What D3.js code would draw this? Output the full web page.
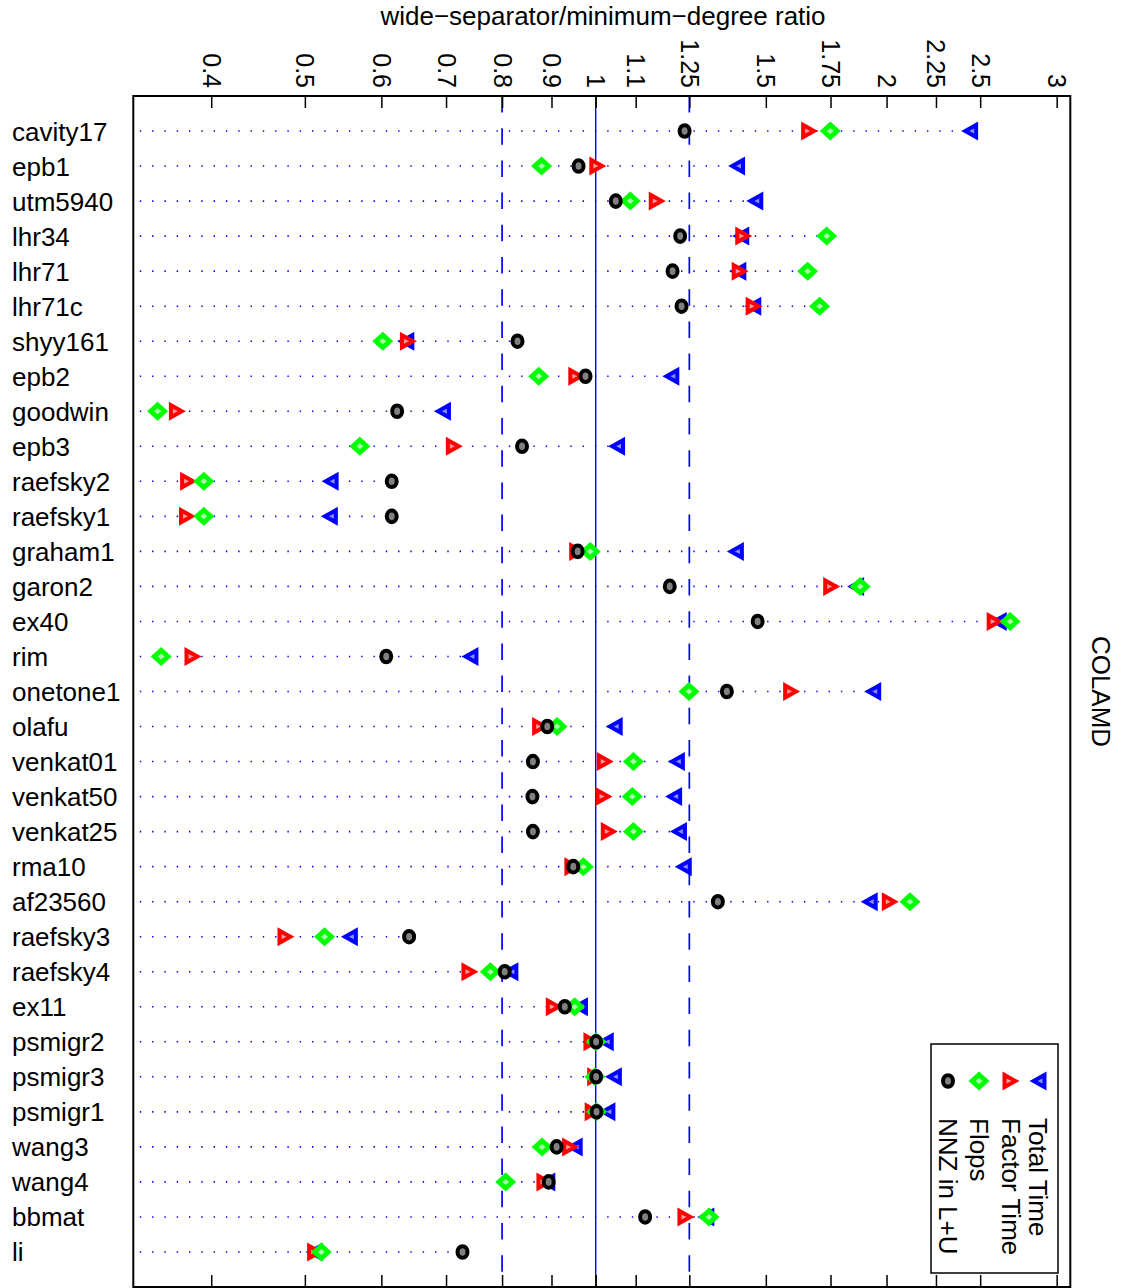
<!DOCTYPE html>
<html>
<head>
<meta charset="utf-8">
<script src="https://cdn.jsdelivr.net/npm/d3@7"></script>
<style>
  body { margin: 0; background: #fff; }
  svg { display: block; font-family: "Liberation Sans", Arial, sans-serif; }
</style>
</head>
<body>
<svg width="1124" height="1288"></svg>
<script>
// matrices, top to bottom
var matrices = ["cavity17", "epb1", "utm5940", "lhr34", "lhr71", "lhr71c", "shyy161", "epb2",
  "goodwin", "epb3", "raefsky2", "raefsky1", "graham1", "garon2", "ex40", "rim", "onetone1",
  "olafu", "venkat01", "venkat50", "venkat25", "rma10", "af23560", "raefsky3", "raefsky4",
  "ex11", "psmigr2", "psmigr3", "psmigr1", "wang3", "wang4", "bbmat", "li"];

// ratios
var totalTime = [2.438, 1.399, 1.461, 1.413, 1.403, 1.454, 0.636, 1.196, 0.694, 1.051, 0.531,
  0.530, 1.395, 1.858, 2.610, 0.741, 1.935, 1.045, 1.212, 1.204, 1.218, 1.232, 1.919, 0.556,
  0.815, 0.962, 1.023, 1.043, 1.027, 0.950, 0.890, 1.300, 0.511];
var factorTime = [1.665, 1.005, 1.158, 1.423, 1.411, 1.459, 0.640, 0.956, 0.369, 0.714, 0.379,
  0.378, 0.958, 1.755, 2.591, 0.383, 1.595, 0.877, 1.023, 1.020, 1.033, 0.947, 2.018, 0.478,
  0.741, 0.906, 0.991, 1.000, 0.994, 0.942, 0.886, 1.240, 0.513];
var flops = [1.749, 0.879, 1.086, 1.734, 1.657, 1.705, 0.602, 0.873, 0.352, 0.570, 0.393,
  0.393, 0.987, 1.878, 2.685, 0.355, 1.249, 0.912, 1.094, 1.091, 1.094, 0.971, 2.115, 0.524,
  0.778, 0.951, 1.001, 0.998, 1.002, 0.880, 0.807, 1.310, 0.520];
var nnzLU = [1.236, 0.960, 1.049, 1.223, 1.201, 1.227, 0.830, 0.976, 0.623, 0.839, 0.615,
  0.615, 0.958, 1.193, 1.471, 0.607, 1.367, 0.891, 0.861, 0.860, 0.861, 0.948, 1.338, 0.641,
  0.805, 0.929, 1.001, 1.001, 1.002, 0.911, 0.894, 1.125, 0.728];

var tickValues = [0.4, 0.5, 0.6, 0.7, 0.8, 0.9, 1, 1.1, 1.25, 1.5, 1.75, 2, 2.25, 2.5, 3];
var dashedRefs = [0.8, 1.25];
var solidRefs = [1];

var series = [
  { name: "Total Time", values: totalTime, shape: "left", color: "#0000ff", inner: "#8c8cff" },
  { name: "Factor Time", values: factorTime, shape: "right", color: "#ff0000", inner: "#ff9a9a" },
  { name: "Flops", values: flops, shape: "diamond", color: "#00ff00", inner: "#a6ffa6" },
  { name: "NNZ in L+U", values: nnzLU, shape: "circle", color: "#000000", inner: "#808080" }
];

var svg = d3.select("svg"),
    width = +svg.attr("width"),
    height = +svg.attr("height");

var plotLeft = 133.3, plotRight = 1070.3, plotTop = 96, plotBottom = 1287;

var x = d3.scaleLog()
    .domain([0.3322, 3.099])
    .range([plotLeft, plotRight]);

var y = d3.scaleLinear()
    .domain([0, matrices.length + 1])
    .range([plotTop, plotBottom]);

// title
svg.append("text")
    .attr("x", 603)
    .attr("y", 25)
    .attr("text-anchor", "middle")
    .style("font-size", "26px")
    .text("wide\u2212separator/minimum\u2212degree ratio");

// dotted row guides, left edge to the largest ratio
svg.append("g")
  .selectAll("line")
  .data(matrices)
  .enter()
  .append("line")
    .attr("x1", plotLeft + 6.5)
    .attr("x2", (d, i) => x(d3.max(series, s => s.values[i])))
    .attr("y1", (d, i) => y(i + 1))
    .attr("y2", (d, i) => y(i + 1))
    .style("stroke", "#0000ff")
    .style("stroke-width", 1.6)
    .style("stroke-dasharray", "1.4,10.9");

// reference lines
svg.append("g")
  .selectAll("line")
  .data(dashedRefs)
  .enter()
  .append("line")
    .attr("x1", d => x(d))
    .attr("x2", d => x(d))
    .attr("y1", plotTop)
    .attr("y2", plotBottom)
    .style("stroke", "#0000ff")
    .style("stroke-width", 1.7)
    .style("stroke-dasharray", "16.5,15.7");

svg.append("g")
  .selectAll("line")
  .data(solidRefs)
  .enter()
  .append("line")
    .attr("x1", d => x(d))
    .attr("x2", d => x(d))
    .attr("y1", plotTop)
    .attr("y2", plotBottom)
    .style("stroke", "#0000ff")
    .style("stroke-width", 1.4);

// marker shapes
function drawMarker(g, shape, color, inner) {
  if (shape == "circle") {
    g.append("ellipse")
        .attr("rx", 5).attr("ry", 5.8)
        .style("fill", inner)
        .style("stroke", color)
        .style("stroke-width", 4);
    return;
  }
  var outer, small;
  if (shape == "right") {
    outer = "M-8.5,-9.5L8.5,0L-8.5,9.5Z";
    small = "M-4.5,-2.5L0.5,0L-4.5,2.5Z";
  } else if (shape == "left") {
    outer = "M8.5,-9.5L-8.5,0L8.5,9.5Z";
    small = "M4.5,-2.5L-0.5,0L4.5,2.5Z";
  } else {
    outer = "M-10.5,0L0,-9.5L10.5,0L0,9.5Z";
    small = "M-3.5,0L0,-3L3.5,0L0,3Z";
  }
  g.append("path").attr("d", outer).style("fill", color);
  g.append("path").attr("d", small).style("fill", inner);
}

series.forEach(function(s) {
  svg.append("g")
    .selectAll("g")
    .data(s.values)
    .enter()
    .append("g")
      .attr("transform", (d, i) => "translate(" + x(d) + "," + y(i + 1) + ")")
      .each(function() { drawMarker(d3.select(this), s.shape, s.color, s.inner); });
});

// axes: ticks point inward, top and bottom
var topAxis = svg.append("g")
    .attr("transform", "translate(0," + plotTop + ")")
    .call(d3.axisTop(x).tickValues(tickValues).tickSize(-12).tickFormat(d => String(d)));

topAxis.select(".domain").remove();
topAxis.selectAll("line").style("stroke", "#000").style("stroke-width", 1.5);
topAxis.selectAll("text")
    .attr("y", null)
    .attr("dy", null)
    .attr("transform", "translate(0,-8) rotate(90)")
    .attr("text-anchor", "end")
    .attr("dominant-baseline", "central")
    .style("font-size", "25px")
    .style("font-family", "Liberation Sans, Arial, sans-serif")
    .style("fill", "#000");

var bottomAxis = svg.append("g")
    .attr("transform", "translate(0," + plotBottom + ")")
    .call(d3.axisBottom(x).tickValues(tickValues).tickSize(-12).tickFormat(""));

bottomAxis.select(".domain").remove();
bottomAxis.selectAll("line").style("stroke", "#000").style("stroke-width", 1.5);

// frame
svg.append("rect")
    .attr("x", plotLeft)
    .attr("y", plotTop)
    .attr("width", plotRight - plotLeft)
    .attr("height", plotBottom - plotTop)
    .style("fill", "none")
    .style("stroke", "#000")
    .style("stroke-width", 2);

// row labels
svg.append("g")
  .selectAll("text")
  .data(matrices)
  .enter()
  .append("text")
    .attr("x", 12)
    .attr("y", (d, i) => y(i + 1) + 9.5)
    .style("font-size", "26px")
    .text(d => d);

// side label
svg.append("text")
    .attr("transform", "translate(1101," + ((plotTop + plotBottom) / 2) + ") rotate(90)")
    .attr("text-anchor", "middle")
    .attr("dominant-baseline", "central")
    .style("font-size", "26px")
    .text("COLAMD");

// legend (rotated text)
var legendX = [1038, 1011, 979, 948];
var legend = svg.append("g");

legend.append("rect")
    .attr("x", 931)
    .attr("y", 1044)
    .attr("width", 127)
    .attr("height", 229)
    .style("fill", "#fff")
    .style("stroke", "#000")
    .style("stroke-width", 1.5);

series.forEach(function(s, i) {
  var m = legend.append("g").attr("transform", "translate(" + legendX[i] + ",1081)");
  drawMarker(m, s.shape, s.color, s.inner);
  legend.append("text")
      .attr("transform", "translate(" + legendX[i] + ",1118) rotate(90)")
      .attr("dominant-baseline", "central")
      .style("font-size", "26px")
      .text(s.name);
});
</script>
</body>
</html>
